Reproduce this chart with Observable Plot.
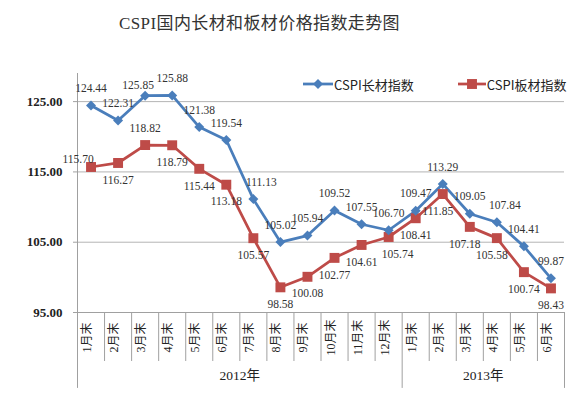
<!DOCTYPE html>
<html>
<head>
<meta charset="utf-8">
<script src="https://cdn.jsdelivr.net/npm/d3@7"></script>
<script src="https://cdn.jsdelivr.net/npm/@observablehq/plot@0.6"></script>
<style>
  body { margin: 0; background: #fff; }
  #wrap { position: relative; width: 588px; height: 398px; overflow: hidden; background: #fff; }
  #title { position: absolute; left: 119px; top: 13px; font: 17px "Liberation Serif", "Noto Sans CJK SC", serif; color: #333; white-space: nowrap; line-height: 22px; }
  #chart { position: absolute; left: 0; top: 46px; }
  #legend { position: absolute; left: 303px; top: 76px; height: 16px; display: flex; align-items: center; font: 13px "Noto Sans CJK SC", "Liberation Sans", sans-serif; color: #222; white-space: nowrap; }
  #legend .item { display: flex; align-items: center; }
  #legend svg { display: block; }
</style>
</head>
<body>
<div id="wrap">
  <div id="title">CSPI国内长材和板材价格指数走势图</div>
  <div id="chart"></div>
  <div id="legend"></div>
</div>
<script>
// ---- data ----
const months2012 = ["1月末","2月末","3月末","4月末","5月末","6月末","7月末","8月末","9月末","10月末","11月末","12月末"];
const months2013 = ["1月末","2月末","3月末","4月末","5月末","6月末"];
const years = ["2012年", "2013年"];
const seriesNames = ["CSPI长材指数", "CSPI板材指数"];
const longValues = [124.44,122.31,125.85,125.88,121.38,119.54,111.13,105.02,105.94,109.52,107.55,106.70,109.47,113.29,109.05,107.84,104.41,99.87];
const plateValues = [115.70,116.27,118.82,118.79,115.44,113.18,105.57,98.58,100.08,102.77,104.61,105.74,108.41,111.85,107.18,105.58,100.74,98.43];
const yTicks = [95, 105, 115, 125];
// label placement (named) for each point
const longPlace = ["above","above","aboveLeft","above","above","above","aboveRight","above","above","above","above","above","above","above","above","aboveRight","above","above"];
const platePlace = ["left","below","above","below","below","below","below","below","below","below","below","belowRight","below","belowLeft","belowLeft","belowLeft","below","below"];

// ---- styles ----
const blue = "#4A7EBB", red = "#BE4B48";
const offsets = {
  above: [0, -17], below: [0, 17], left: [-13, -8],
  aboveRight: [8, -17], aboveLeft: [-7, -10], belowRight: [9, 17], belowLeft: [-5, 17]
};

// fit title width to the reference's span
(function fitTitle() {
  const t = document.getElementById("title");
  const chars = t.textContent.length;
  const base = t.getBoundingClientRect().width;
  const target = 281;
  const ls = Math.max(0, (target - base) / chars);
  t.style.letterSpacing = ls + "px";
})();

const yearOf = [...months2012.map(() => 0), ...months2013.map(() => 1)];
const rows = [...months2012, ...months2013].map((m, i) => ({
  i, month: m, year: years[yearOf[i]],
  long: longValues[i], plate: plateValues[i],
  longPlace: longPlace[i], platePlace: platePlace[i]
}));
const n = rows.length;
const groupEdges = [-0.5, months2012.length - 0.5, n - 0.5];
const innerEdges = d3.range(1, n).map(k => k - 0.5).filter(e => !groupEdges.includes(e));
const yearCenters = years.map((y, k) => ({ year: y, x: (groupEdges[k] + groupEdges[k + 1]) / 2 }));

const yMin = 95, yMax = 129;
const catBottom = 88.03;   // bottom of month-label separators (value units)
const groupBottom = 84.2;  // bottom of year separators

function labelMarks(key, placeKey) {
  return Object.keys(offsets).map(p => Plot.text(rows.filter(r => r[placeKey] === p), {
    x: "i", y: key, text: d => d[key].toFixed(2),
    dx: offsets[p][0], dy: offsets[p][1],
    fill: "#333", fontSize: 11.5
  }));
}

const chart = Plot.plot({
  width: 588, height: 352,
  marginLeft: 77, marginRight: 24, marginTop: 27, marginBottom: 86,
  x: { type: "linear", domain: [-0.5, n - 0.5], axis: null },
  y: { domain: [yMin, yMax], axis: null },
  style: { fontFamily: '"Liberation Serif", "Noto Sans CJK SC", serif', fontSize: "11px", color: "#333", background: "white", overflow: "visible" },
  marks: [
    Plot.ruleY(yTicks.filter(t => t !== yMin), { x1: -0.5, x2: n - 0.5, stroke: "#b4b4b4", strokeWidth: 1 }),
    Plot.ruleY([yMin], { x1: -0.5, x2: n - 0.5, stroke: "#a0a0a0", strokeWidth: 1 }),
    Plot.ruleX([groupEdges[0]], { y1: yMax, y2: groupBottom, stroke: "#a0a0a0", strokeWidth: 1 }),
    Plot.ruleX(groupEdges.slice(1), { y1: yMin, y2: groupBottom, stroke: "#a0a0a0", strokeWidth: 1 }),
    Plot.ruleX(innerEdges, { y1: yMin, y2: catBottom, stroke: "#a0a0a0", strokeWidth: 1 }),
    Plot.axisY({ ticks: yTicks, tickFormat: d => d.toFixed(2), tickSize: 4, tickPadding: 11, fontSize: 13, fontWeight: "bold", stroke: "#a0a0a0", fill: "#222", label: null, anchor: "left" }),
    Plot.line(rows, { x: "i", y: "plate", stroke: red, strokeWidth: 2.75 }),
    Plot.line(rows, { x: "i", y: "long", stroke: blue, strokeWidth: 2.75 }),
    Plot.dot(rows, { x: "i", y: "plate", symbol: "square", r: 5.6, fill: red, stroke: "none" }),
    Plot.dot(rows, { x: "i", y: "long", symbol: "diamond2", r: 4.5, fill: blue, stroke: "none" }),
    ...labelMarks("long", "longPlace"),
    ...labelMarks("plate", "platePlace"),
    Plot.text(rows, { x: "i", text: "month", frameAnchor: "bottom", rotate: -90, dy: 25, fontSize: 12, fill: "#222" }),
    Plot.text(yearCenters, { x: "x", text: "year", frameAnchor: "bottom", dy: 67, fontSize: 13.5, fill: "#222" })
  ]
});
document.getElementById("chart").appendChild(chart);

// ---- legend ----
const legend = d3.select("#legend");
const legendItems = [
  { name: seriesNames[0], color: blue, symbol: d3.symbolDiamond2, size: Math.PI * 4.5 * 4.5, w: 30, gap: 44 },
  { name: seriesNames[1], color: red, symbol: d3.symbolSquare, size: Math.PI * 5.6 * 5.6, w: 28, gap: 0 }
];
legendItems.forEach(it => {
  const item = legend.append("div").attr("class", "item").style("margin-right", it.gap + "px");
  const s = item.append("svg").attr("width", it.w).attr("height", 14);
  s.append("line").attr("x1", 0).attr("x2", it.w).attr("y1", 7).attr("y2", 7).attr("stroke", it.color).attr("stroke-width", 2.75);
  s.append("path").attr("transform", `translate(${it.w / 2},7)`).attr("d", d3.symbol(it.symbol, it.size)()).attr("fill", it.color);
  item.append("span").style("margin-left", "1px").text(it.name);
});
</script>
</body>
</html>
